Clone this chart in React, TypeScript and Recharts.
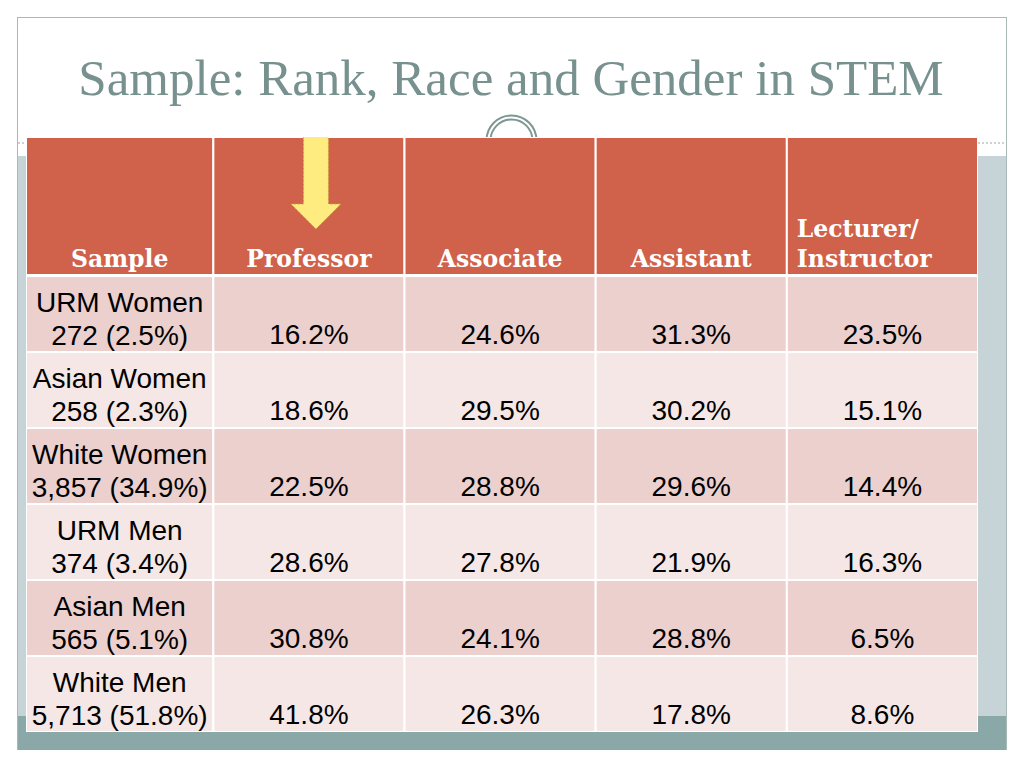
import { ScatterChart, XAxis, YAxis, ReferenceArea, Scatter } from 'recharts';

// column headings, row groups and shares by rank (percent)
const columns = ['Sample', 'Professor', 'Associate', 'Assistant', 'Lecturer/\nInstructor'];
const groups = ['URM Women', 'Asian Women', 'White Women', 'URM Men', 'Asian Men', 'White Men'];
const sampleSizes = ['272 (2.5%)', '258 (2.3%)', '3,857 (34.9%)', '374 (3.4%)', '565 (5.1%)', '5,713 (51.8%)'];
const professor = [16.2, 18.6, 22.5, 28.6, 30.8, 41.8];
const associate = [24.6, 29.5, 28.8, 27.8, 24.1, 26.3];
const assistant = [31.3, 30.2, 29.6, 21.9, 28.8, 17.8];
const lecturer = [23.5, 15.1, 14.4, 16.3, 6.5, 8.6];
const highlighted = 'Professor';

const rankSeries = [professor, associate, assistant, lecturer];

// header row is taller than a body row, first column a bit narrower (in cell units)
const HEADER_SPAN = 1.83;
const FIRST_COL_SPAN = 0.98;
const Y_MAX = HEADER_SPAN + groups.length;
const X_MAX = FIRST_COL_SPAN + columns.length - 1;

const colStart = (c: number) => (c === 0 ? 0 : FIRST_COL_SPAN + c - 1);
const colEnd = (c: number) => (c === 0 ? FIRST_COL_SPAN : FIRST_COL_SPAN + c);

const HEADER_FILL = '#d0614a';
const ROW_FILLS = ['#ebd0ce', '#f5e7e6'];
const SANS = '"Liberation Sans", Arial, sans-serif';
const SERIF = '"DejaVu Serif", Georgia, serif';

const valuePoints = groups.flatMap((_, r) =>
  rankSeries.map((series, c) => ({
    x: (colStart(c + 1) + colEnd(c + 1)) / 2,
    y: HEADER_SPAN + r + 1,
    value: series[r],
  }))
);

function HeaderCell(props: any) {
  const { x, y, width, height, text } = props;
  const lines: string[] = text.split('\n');
  const multi = lines.length > 1;
  const base = y + height - 9;
  const cx = x + width / 2 + 7;
  return (
    <g>
      <rect x={x} y={y} width={width} height={height} fill={HEADER_FILL} stroke="#fff" strokeWidth={2} />
      <line x1={x} x2={x + width} y1={y + height} y2={y + height} stroke="#fff" strokeWidth={4} />
      {text === highlighted && (
        <polygon
          points={`${cx - 12.5},${y - 2} ${cx + 12.5},${y - 2} ${cx + 12.5},${y + 67} ${cx + 25},${y + 67} ${cx},${y + 92} ${cx - 25},${y + 67} ${cx - 12.5},${y + 67}`}
          fill="#ffec80"
          stroke="#c9a23c"
          strokeWidth={1}
          strokeDasharray="2 2"
        />
      )}
      {lines.map((ln, i) => (
        <text
          key={i}
          x={multi ? x + 10 : x + width / 2}
          y={base - (lines.length - 1 - i) * 30}
          textAnchor={multi ? 'start' : 'middle'}
          fill="#fff"
          fontFamily={SERIF}
          fontWeight="bold"
          fontSize={23.5}
        >
          {ln}
        </text>
      ))}
    </g>
  );
}

function BodyCell(props: any) {
  const { x, y, width, height, fill, lines } = props;
  return (
    <g>
      <rect x={x} y={y} width={width} height={height} fill={fill} stroke="#fff" strokeWidth={2} />
      {lines &&
        lines.map((ln: string, i: number) => (
          <text
            key={i}
            x={x + width / 2}
            y={y + height - 7 - (lines.length - 1 - i) * 33}
            textAnchor="middle"
            fill="#000"
            fontFamily={SANS}
            fontSize={28}
          >
            {ln}
          </text>
        ))}
    </g>
  );
}

function ValueText(props: any) {
  const { cx, cy, payload } = props;
  return (
    <text x={cx} y={cy - 8} textAnchor="middle" fill="#000" fontFamily={SANS} fontSize={28}>
      {payload.value.toFixed(1)}%
    </text>
  );
}

function SlideBackground() {
  return (
    <svg width={1024} height={768} style={{ position: 'absolute', left: 0, top: 0 }}>
      <rect x={17.5} y={17.5} width={989} height={732} fill="#fff" stroke="#a8b9b7" />
      <line x1={18} x2={1006} y1={143} y2={143} stroke="#a3a3a3" strokeDasharray="2 2" />
      <rect x={18} y={156} width={988} height={560} fill="#c7d4d7" />
      <rect x={18} y={716} width={988} height={34} fill="#8aa8a8" />
      <circle cx={511.5} cy={140.5} r={25} fill="#fff" stroke="#7d9795" strokeWidth={2} />
      <circle cx={511.5} cy={140.5} r={21} fill="none" stroke="#7d9795" strokeWidth={2} />
      <text
        x={511}
        y={95}
        textAnchor="middle"
        fill="#77918f"
        fontFamily='"Liberation Serif", Georgia, serif'
        fontSize={51}
      >
        Sample: Rank, Race and Gender in STEM
      </text>
    </svg>
  );
}

export default function App() {
  return (
    <div style={{ position: 'fixed', left: 0, top: 0, width: 1024, height: 768, background: '#fff' }}>
      <SlideBackground />
      <div style={{ position: 'absolute', left: 26, top: 137 }}>
        <ScatterChart width={952} height={595} margin={{ top: 0, right: 0, bottom: 0, left: 0 }}>
          <XAxis type="number" dataKey="x" domain={[0, X_MAX]} allowDataOverflow hide />
          <YAxis type="number" dataKey="y" domain={[0, Y_MAX]} allowDataOverflow reversed hide />
          {columns.map((col, c) => (
            <ReferenceArea
              key={`h-${c}`}
              x1={colStart(c)}
              x2={colEnd(c)}
              y1={0}
              y2={HEADER_SPAN}
              ifOverflow="visible"
              shape={(p: any) => <HeaderCell {...p} text={col} />}
            />
          ))}
          {groups.map((g, r) =>
            columns.map((_, c) => (
              <ReferenceArea
                key={`b-${r}-${c}`}
                x1={colStart(c)}
                x2={colEnd(c)}
                y1={HEADER_SPAN + r}
                y2={HEADER_SPAN + r + 1}
                ifOverflow="visible"
                shape={(p: any) => (
                  <BodyCell {...p} fill={ROW_FILLS[r % 2]} lines={c === 0 ? [g, sampleSizes[r]] : null} />
                )}
              />
            ))
          )}
          <Scatter data={valuePoints} isAnimationActive={false} shape={(p: any) => <ValueText {...p} />} />
        </ScatterChart>
      </div>
    </div>
  );
}
